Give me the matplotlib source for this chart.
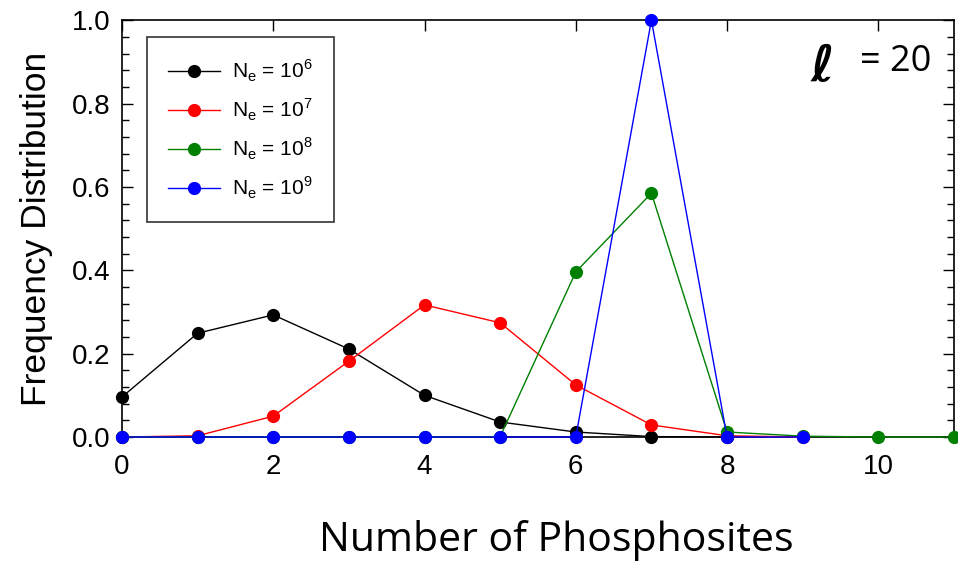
import matplotlib.pyplot as plt
from matplotlib.ticker import MultipleLocator

# phosphosite counts and frequency distribution per population size
x_black = [0, 1, 2, 3, 4, 5, 6, 7, 8]
y_black = [0.096, 0.249, 0.293, 0.211, 0.100, 0.036, 0.012, 0.001, 0.0]

x_red = [0, 1, 2, 3, 4, 5, 6, 7, 8, 9]
y_red = [0.0, 0.003, 0.050, 0.182, 0.317, 0.274, 0.125, 0.029, 0.003, 0.0]

x_green = [0, 1, 2, 3, 4, 5, 6, 7, 8, 9, 10, 11]
y_green = [0.0, 0.0, 0.0, 0.0, 0.0, 0.001, 0.396, 0.585, 0.012, 0.002, 0.0, 0.0]

x_blue = [0, 1, 2, 3, 4, 5, 6, 7, 8, 9]
y_blue = [0.0, 0.0, 0.0, 0.0, 0.0, 0.0, 0.0, 1.0, 0.0, 0.0]

labels = [r"N$_\mathregular{e}$ = 10$^\mathregular{6}$",
          r"N$_\mathregular{e}$ = 10$^\mathregular{7}$",
          r"N$_\mathregular{e}$ = 10$^\mathregular{8}$",
          r"N$_\mathregular{e}$ = 10$^\mathregular{9}$"]
colors = ['black', 'red', 'green', 'blue']

plt.rcParams['font.family'] = ['Liberation Sans', 'DejaVu Sans']

fig = plt.figure(figsize=(9.58, 5.61), dpi=100)
ax = fig.add_axes([0.1273, 0.221, 0.8685, 0.743])

series = [(x_black, y_black), (x_red, y_red), (x_green, y_green), (x_blue, y_blue)]
for (xs, ys), c, lab in zip(series, colors, labels):
    ax.plot(xs, ys, color=c, lw=1.0, marker='o', markersize=9.5,
            markeredgewidth=0, label=lab, clip_on=False, zorder=3)

ax.set_xlim(0, 11)
ax.set_ylim(0, 1.0)
ax.xaxis.set_major_locator(MultipleLocator(2))
ax.yaxis.set_major_locator(MultipleLocator(0.2))
ax.yaxis.set_minor_locator(MultipleLocator(0.04))
ax.yaxis.set_major_formatter(plt.FormatStrFormatter('%.1f'))

ax.tick_params(axis='y', which='both', direction='in', left=True, right=True,
               labelsize=20, width=1, pad=8)
ax.tick_params(axis='y', which='major', length=8)
ax.tick_params(axis='y', which='minor', length=5)
ax.tick_params(axis='x', which='major', direction='in', top=True, bottom=False,
               labelsize=20, length=8, width=1, pad=12)
for s in ax.spines.values():
    s.set_linewidth(1.2)

ax.set_ylabel('Frequency Distribution', fontsize=25.5, labelpad=14)
fig.text(0.581, 0.037, 'Number of Phosphosites', fontsize=29.5,
         family=['Open Sans', 'DejaVu Sans'], ha='center', va='center')

ax.text(0.842, 0.887, '\u2113', transform=ax.transAxes, fontsize=36,
        family=['DejaVu Sans'], style='italic', weight='bold', ha='center', va='center')
ax.text(0.930, 0.900, '= 20', transform=ax.transAxes, fontsize=26,
        family=['Open Sans', 'DejaVu Sans'], ha='center', va='center')

leg = ax.legend(loc='upper left', bbox_to_anchor=(0.030, 0.96), borderaxespad=0,
                fontsize=15, frameon=True, fancybox=False, edgecolor='black',
                handlelength=2.5, borderpad=1.0, labelspacing=0.62, handletextpad=0.6)
leg.get_frame().set_linewidth(1.2)

fig.savefig('out.png', dpi=100)
